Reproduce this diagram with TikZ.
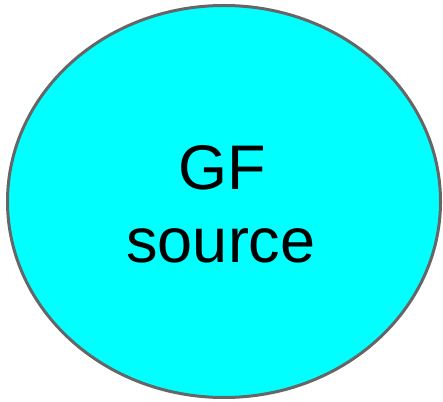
\documentclass[tikz,border=0pt]{standalone}
\usepackage{fontspec}
\setmainfont{Liberation Sans}
\usetikzlibrary{shapes.geometric}
\definecolor{bordergray}{HTML}{666666}
\definecolor{fillcyan}{HTML}{00FFFF}
\tikzset{
  blob/.style={draw=bordergray, line width=3pt, fill=fillcyan},
  lbl/.style={font=\fontsize{63pt}{74pt}\selectfont, inner sep=0pt, anchor=base}
}
\begin{document}
\begin{tikzpicture}[x=1pt,y=1pt]
\useasboundingbox (0,0) rectangle (443,401);
\draw[blob] (224,199.5) ellipse [x radius=216.5, y radius=196];
\node[lbl] (gf) at (222,211) {GF};
\node[lbl] (src) at (221,138) {source};
\end{tikzpicture}
\end{document}
